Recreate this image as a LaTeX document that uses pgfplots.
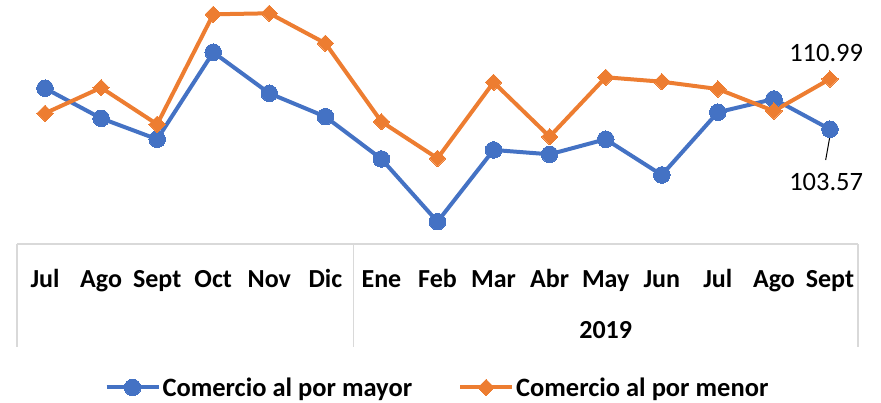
\documentclass[border=0pt]{standalone}
\usepackage{fontspec}
\setmainfont{Carlito}
\usepackage{pgfplots}
\pgfplotsset{compat=1.18}
\definecolor{cblue}{HTML}{4472C4}
\definecolor{corange}{HTML}{ED7D31}
\definecolor{cgrid}{HTML}{D9D9D9}
\begin{document}
\begin{tikzpicture}
\useasboundingbox (0,0) rectangle (881pt,402pt);
\begin{axis}[
  at={(17pt,158pt)}, anchor=south west,
  scale only axis, width=841pt, height=244pt,
  xmin=-0.5, xmax=14.5, ymin=86.65, ymax=122.64,
  clip=false,
  axis x line*=bottom, axis y line=none,
  x axis line style={draw=cgrid, line width=1.2pt, -},
  xtick={0,...,14},
  xticklabels={Jul,Ago,Sept,Oct,Nov,Dic,Ene,Feb,Mar,Abr,May,Jun,Jul,Ago,Sept},
  major tick length=0pt,
  xticklabel style={anchor=base, yshift=-43.3pt, font=\fontsize{26}{30}\selectfont\bfseries},
  legend columns=2,
  legend style={at={(0.5,-0.588)}, anchor=center, draw=none, fill=none,
    font=\fontsize{26.5}{30}\selectfont\bfseries,
    /tikz/every even column/.append style={column sep=44pt}},
  legend image code/.code={\draw[mark repeat=2,mark phase=2,#1] plot coordinates {(0pt,0pt)(26pt,0pt)(52pt,0pt)};},
]
\addplot[color=cblue, line width=4pt, mark=*, mark size=8.3pt, mark options={fill=cblue, draw=cblue, line width=0pt}]
coordinates {(0,109.62)(1,105.19)(2,102.10)(3,114.93)(4,108.88)(5,105.43)(6,99.19)(7,89.94)(8,100.52)(9,99.88)(10,102.10)(11,96.83)(12,106.08)(13,108.04)(14,103.57)};
\addlegendentry{Comercio al por mayor}
\addplot[color=corange, line width=4pt, mark=square*, mark size=5.8pt, mark options={rotate=45, fill=corange, draw=corange, line width=0pt}]
coordinates {(0,105.93)(1,109.71)(2,104.31)(3,120.53)(4,120.68)(5,116.26)(6,104.69)(7,99.29)(8,110.50)(9,102.48)(10,111.24)(11,110.59)(12,109.51)(13,106.27)(14,110.99)};
\addlegendentry{Comercio al por menor}
\draw[cgrid, line width=1.2pt] (axis cs:-0.5,86.65) -- ([yshift=-103pt]axis cs:-0.5,86.65);
\draw[cgrid, line width=1.2pt] (axis cs:5.5,86.65) -- ([yshift=-103pt]axis cs:5.5,86.65);
\draw[cgrid, line width=1.2pt] (axis cs:14.5,86.65) -- ([yshift=-103pt]axis cs:14.5,86.65);
\node[anchor=base, yshift=-94.3pt, font=\fontsize{26}{30}\selectfont\bfseries] at (axis cs:10,86.65) {2019};
\node[anchor=center, xshift=-3.8pt, yshift=26.2pt, font=\fontsize{26.5}{30}\selectfont] at (axis cs:14,110.99) {110.99};
\node[anchor=center, xshift=-3.8pt, yshift=-52.7pt, font=\fontsize{26.5}{30}\selectfont] at (axis cs:14,103.57) {103.57};
\draw[black, line width=1pt] ([xshift=1pt,yshift=-1pt]axis cs:14,103.57) -- ([xshift=-4.3pt,yshift=-30.7pt]axis cs:14,103.57);
\end{axis}
\end{tikzpicture}
\end{document}
